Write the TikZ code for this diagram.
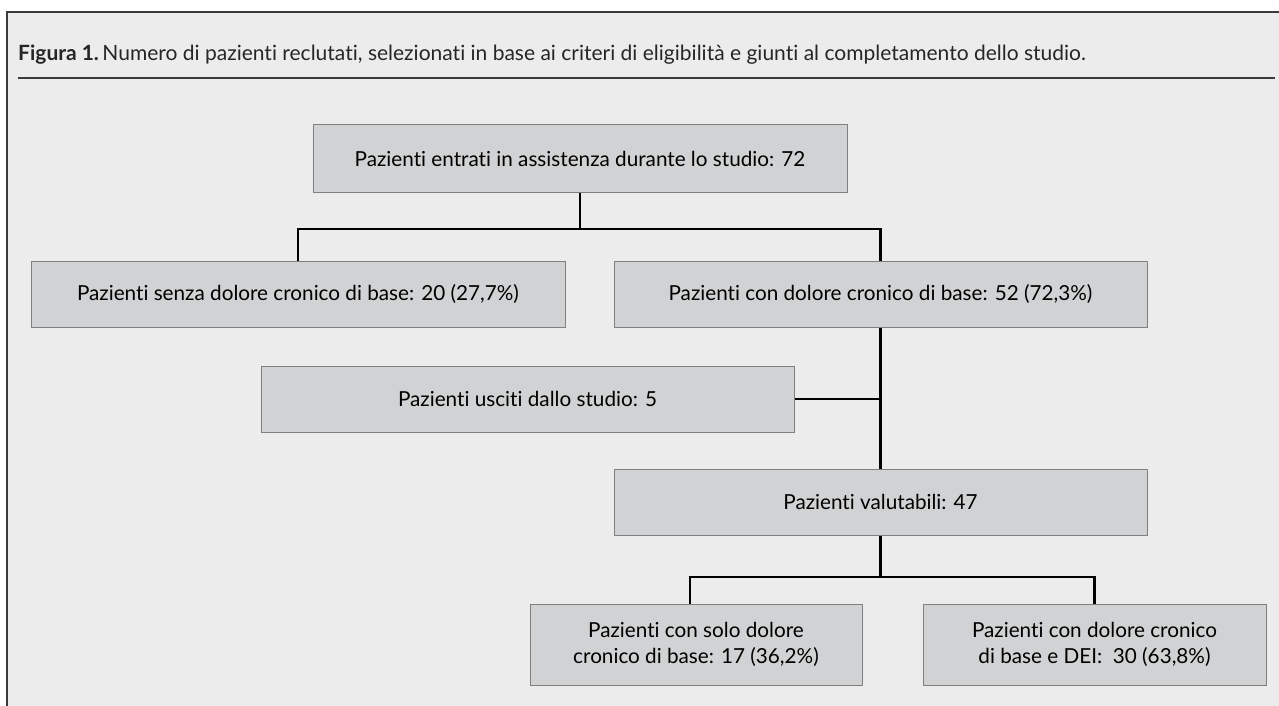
\documentclass[tikz,border=0pt]{standalone}
\usepackage{fontspec}
\setmainfont{Lato}[Ligatures={NoCommon}]
\definecolor{bg}{HTML}{EBECEB}
\definecolor{boxfill}{HTML}{D1D2D3}
\definecolor{boxline}{HTML}{7F7F7F}
\definecolor{frameline}{HTML}{3A3A3A}
\tikzset{
  pbox/.style={draw=boxline, line width=1pt, fill=boxfill, inner sep=0pt, align=center,
    font=\fontsize{20.7}{26}\selectfont, text=black},
  conn/.style={draw=black, line width=2.3pt}
}
\begin{document}
\begin{tikzpicture}[x=1pt,y=-1pt]
\useasboundingbox (0,0) rectangle (1279,706);
\fill[white] (0,0) rectangle (1279,706);
\filldraw[fill=bg, draw=frameline, line width=1.7pt] (7,12) rectangle (1300,730);
\node[anchor=base west, inner sep=0pt, font=\fontsize{21}{25}\selectfont, text=black!85] (title) at (18,61)
  {\textbf{Figura 1.}\,Numero di pazienti reclutati, selezionati in base ai criteri di eligibilità e giunti al completamento dello studio.};
\draw[frameline, line width=2.3pt] (18,78) -- (1275,78);

\node[pbox, minimum width=534pt, minimum height=67pt] (top) at (580,158.5) {Pazienti entrati in assistenza durante lo studio: 72};
\node[pbox, minimum width=534pt, minimum height=66pt] (l1) at (298,294) {Pazienti senza dolore cronico di base: 20 (27,7\%)};
\node[pbox, minimum width=533pt, minimum height=66pt] (r1) at (880.5,294) {Pazienti con dolore cronico di base: 52 (72,3\%)};
\node[pbox, minimum width=533pt, minimum height=66pt] (usc) at (527.5,399) {Pazienti usciti dallo studio: 5};
\node[pbox, minimum width=533pt, minimum height=66pt] (val) at (880.5,502) {Pazienti valutabili: 47};
\node[pbox, minimum width=332pt, minimum height=81pt] (bl) at (696,644.5) {Pazienti con solo dolore\\cronico di base: 17 (36,2\%)};
\node[pbox, minimum width=343pt, minimum height=81pt] (br) at (1094.5,644.5) {Pazienti con dolore cronico\\di base e DEI:~ 30 (63,8\%)};

\coordinate (j1) at (580,229);
\coordinate (j2) at (880.5,577);
\draw[conn] (top.south) -- (j1);
\draw[conn] (l1.north) |- (j1) -| (r1.north);
\draw[conn] (r1.south) -- (val.north);
\draw[conn] (usc.east) -- (usc.east -| val.north);
\draw[conn] (val.south) -- (j2);
\draw[conn] ([xshift=-6pt]bl.north) |- (j2) -| (br.north);
\end{tikzpicture}
\end{document}
